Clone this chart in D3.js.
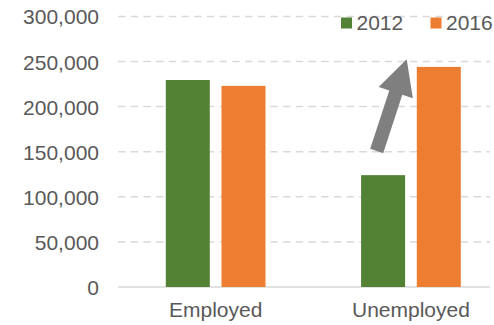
<!DOCTYPE html>
<html>
<head>
<meta charset="utf-8">
<script src="https://cdn.jsdelivr.net/npm/d3@7"></script>
<style>
  html, body { margin: 0; padding: 0; background: #fff; }
  svg { display: block; font-family: "Liberation Sans", Arial, sans-serif; }
</style>
</head>
<body>
<svg id="chart" width="494" height="325"></svg>
<script>
// Employment status counts by survey year
const categories = ["Employed", "Unemployed"];
const series = ["2012", "2016"];
const values2012 = [229500, 124000];
const values2016 = [223000, 244000];
const yTicks = [0, 50000, 100000, 150000, 200000, 250000, 300000];

const colors = { "2012": "#548235", "2016": "#ed7d31" };
const textColor = "#595959";
const gridColor = "#d9d9d9";

const svg = d3.select("#chart");

const plotLeft = 118, plotRight = 508.6, gridRight = 490;
const y = d3.scaleLinear().domain([0, 300000]).range([287, 16.4]);
const x0 = d3.scaleBand().domain(categories).range([plotLeft, plotRight]);
const x1 = d3.scaleBand().domain(series).range([0, x0.bandwidth()])
  .paddingInner(0.21).paddingOuter(0.858);

// dashed horizontal gridlines
svg.append("g").selectAll("line")
  .data(yTicks.filter(d => d > 0))
  .join("line")
  .attr("x1", plotLeft).attr("x2", gridRight)
  .attr("y1", d => y(d)).attr("y2", d => y(d))
  .attr("stroke", gridColor).attr("stroke-width", 1.5)
  .attr("stroke-dasharray", "7.4,5.3");

// baseline
svg.append("line")
  .attr("x1", plotLeft).attr("x2", gridRight)
  .attr("y1", y(0)).attr("y2", y(0))
  .attr("stroke", gridColor).attr("stroke-width", 1.5);

// y axis labels
const yAxis = d3.axisLeft(y).tickValues(yTicks).tickSize(0).tickPadding(0)
  .tickFormat(d3.format(","));
const yg = svg.append("g").attr("transform", "translate(99,0)").call(yAxis);
yg.select(".domain").remove();
yg.selectAll("text")
  .attr("fill", textColor).style("font-size", "21px")
  .attr("dy", "0.36em").attr("x", 0);

// x axis labels
const xAxis = d3.axisBottom(x0).tickSize(0).tickPadding(0);
const xg = svg.append("g").attr("transform", "translate(0,302)").call(xAxis);
xg.select(".domain").remove();
xg.selectAll("text")
  .attr("fill", textColor).style("font-size", "21px")
  .attr("dy", "0.71em").attr("y", 0);

// bars
const rows = categories.map((c, i) => ({ category: c, "2012": values2012[i], "2016": values2016[i] }));
svg.append("g").selectAll("g")
  .data(rows)
  .join("g")
  .attr("transform", d => `translate(${x0(d.category)},0)`)
  .selectAll("rect")
  .data(d => series.map(s => ({ s, v: d[s] })))
  .join("rect")
  .attr("x", d => x1(d.s))
  .attr("width", x1.bandwidth())
  .attr("y", d => y(d.v))
  .attr("height", d => y(0) - y(d.v))
  .attr("fill", d => colors[d.s]);

// legend
const legend = svg.append("g");
const legendItems = [{ s: "2012", x: 341 }, { s: "2016", x: 430.5 }];
legendItems.forEach(it => {
  legend.append("rect").attr("x", it.x).attr("y", 17.5)
    .attr("width", 11).attr("height", 11).attr("fill", colors[it.s]);
  legend.append("text").attr("x", it.x + 15.5).attr("y", 30)
    .attr("fill", textColor).style("font-size", "21px").text(it.s);
});

// upward block arrow annotation
const tail = [376.7, 151], tip = [406.7, 59.3];
const shaftW = 13.7, headW = 35.9, headL = 35.1;
const dx = tip[0] - tail[0], dy = tip[1] - tail[1];
const len = Math.hypot(dx, dy);
const u = [dx / len, dy / len], n = [-u[1], u[0]];
const base = [tip[0] - u[0] * headL, tip[1] - u[1] * headL];
const pt = (p, k) => [p[0] + n[0] * k, p[1] + n[1] * k];
const arrowPts = [
  pt(tail, -shaftW / 2), pt(base, -shaftW / 2), pt(base, -headW / 2),
  tip,
  pt(base, headW / 2), pt(base, shaftW / 2), pt(tail, shaftW / 2)
];
svg.append("polygon")
  .attr("points", arrowPts.map(p => p.join(",")).join(" "))
  .attr("fill", "#7f7f7f");
</script>
</body>
</html>
